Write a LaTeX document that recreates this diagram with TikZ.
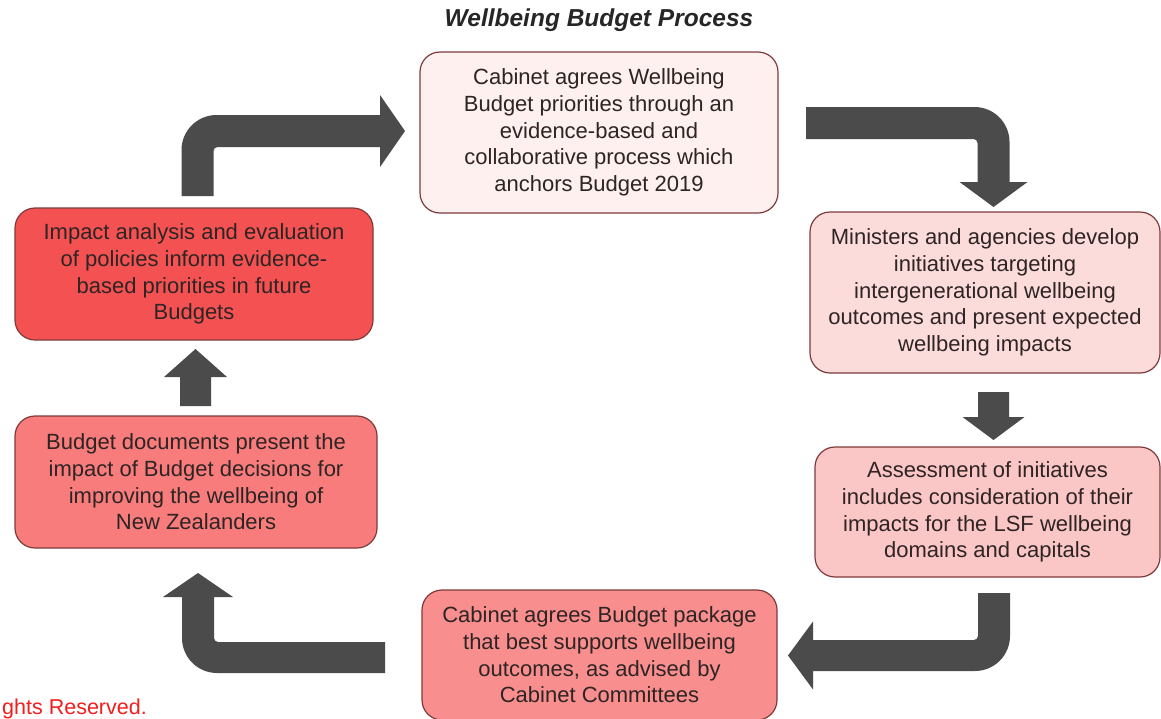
\documentclass[tikz,border=0pt]{standalone}
\usepackage{fontspec}
\setmainfont{Liberation Sans}
\definecolor{arrowgray}{HTML}{4B4B4B}
\definecolor{boxline}{HTML}{7E3A3A}
\definecolor{txt}{HTML}{2E2424}
\definecolor{fillA}{HTML}{FDF0EF}
\definecolor{fillB}{HTML}{FCDCDB}
\definecolor{fillC}{HTML}{FBC6C6}
\definecolor{fillD}{HTML}{F98E8E}
\definecolor{fillE}{HTML}{F87C7C}
\definecolor{fillF}{HTML}{F45252}
\definecolor{copyred}{HTML}{F01E1E}
\begin{document}
\begin{tikzpicture}[x=1pt,y=-1pt,
  stagebox/.style={draw=boxline, line width=1.2pt, rounded corners=20pt,
    inner sep=0pt, align=center, text=txt,
    font=\fontsize{22}{26.7}\selectfont},
  blockarrow/.style={fill=arrowgray}]
\useasboundingbox (0,0) rectangle (1161,718);
\begin{scope}
\clip (0,0) rectangle (1161,718);

\node[font=\bfseries\itshape\fontsize{24.5}{28}\selectfont, text=black!85] (title) at (599,20) {Wellbeing Budget Process};

\node[stagebox, fill=fillA, minimum width=358pt, minimum height=161pt] (A) at (599,132.5)
  {Cabinet agrees Wellbeing\\Budget priorities through an\\evidence-based and\\collaborative process which\\anchors Budget 2019};
\node[stagebox, fill=fillB, minimum width=350pt, minimum height=161pt] (B) at (985,292.5)
  {Ministers and agencies develop\\initiatives targeting\\intergenerational wellbeing\\outcomes and present expected\\wellbeing impacts};
\node[stagebox, fill=fillC, minimum width=345pt, minimum height=130pt] (C) at (987.5,512)
  {Assessment of initiatives\\includes consideration of their\\impacts for the LSF wellbeing\\domains and capitals};
\node[stagebox, fill=fillD, minimum width=355pt, minimum height=130pt] (D) at (599.5,655)
  {Cabinet agrees Budget package\\that best supports wellbeing\\outcomes, as advised by\\Cabinet Committees};
\node[stagebox, fill=fillE, minimum width=362pt, minimum height=132pt] (E) at (196,482)
  {Budget documents present the\\impact of Budget decisions for\\improving the wellbeing of\\New Zealanders};
\node[stagebox, fill=fillF, minimum width=358pt, minimum height=132pt] (F) at (194,274)
  {Impact analysis and evaluation\\of policies inform evidence-\\based priorities in future\\Budgets};

% F -> A (up then right)
\fill[blockarrow] (181.5,196) -- (181.5,150)
  .. controls (181.5,130.7) and (197.2,115) .. (216.5,115)
  -- (380,115) -- (380,95) -- (405,131) -- (380,167) -- (380,147)
  -- (217.5,147) .. controls (215.3,147) and (213.5,148.8) .. (213.5,151)
  -- (213.5,196) -- cycle;

% A -> B (right then down)
\fill[blockarrow] (806,107) -- (974.5,107)
  .. controls (993.8,107) and (1009.5,122.7) .. (1009.5,142)
  -- (1009.5,182) -- (1027.5,182) -- (993.5,207) -- (959.5,182) -- (977.5,182)
  -- (977.5,143) .. controls (977.5,140.8) and (975.7,139) .. (973.5,139)
  -- (806,139) -- cycle;

% B -> C (down)
\fill[blockarrow] (978,392) -- (1009,392) -- (1009,417) -- (1024.5,417)
  -- (993.5,440) -- (962.5,417) -- (978,417) -- cycle;

% C -> D (down then left)
\fill[blockarrow] (978,593) -- (1010,593) -- (1010,636)
  .. controls (1010,655.3) and (994.3,671) .. (975,671)
  -- (813,671) -- (813,689.5) -- (788,655.5) -- (813,621.5) -- (813,640)
  -- (974,640) .. controls (976.2,640) and (978,638.2) .. (978,636) -- cycle;

% D -> E (left then up)
\fill[blockarrow] (385,642) -- (218,642)
  .. controls (215.8,642) and (214,640.2) .. (214,638)
  -- (214,597) -- (233,597) -- (198,573) -- (163,597) -- (182,597)
  -- (182,638) .. controls (182,657.3) and (197.7,673) .. (217,673)
  -- (385,673) -- cycle;

% E -> F (up)
\fill[blockarrow] (180,406) -- (180,377) -- (164,377) -- (195.5,349)
  -- (227,377) -- (211,377) -- (211,406) -- cycle;

\node[anchor=base west, inner sep=0pt, text=copyred, font=\fontsize{21.5}{24}\selectfont] (copy) at (2,714) {ghts Reserved.};
\end{scope}
\end{tikzpicture}
\end{document}
